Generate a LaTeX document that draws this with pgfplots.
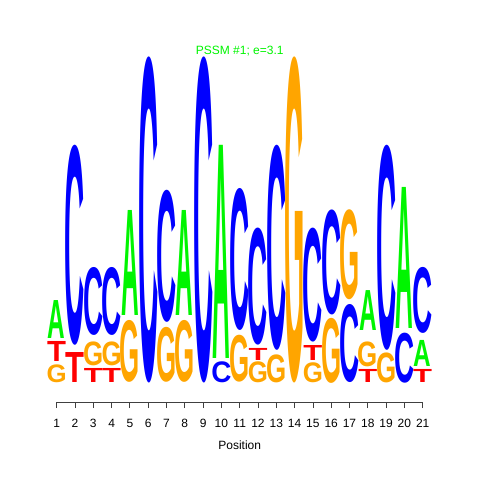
\documentclass[border=0pt]{standalone}
\usepackage{pgfplots}
\pgfplotsset{compat=1.18}
\usepackage{fontspec}
\setmainfont{Liberation Sans}
\definecolor{lA}{RGB}{0,245,0}
\definecolor{lC}{RGB}{0,0,255}
\definecolor{lG}{RGB}{255,165,0}
\definecolor{lT}{RGB}{255,0,0}
\newlength\bitunit
\setlength\bitunit{122.25pt}
\begin{document}
\begin{tikzpicture}
\begin{axis}[
  x=13.725pt, y=122.25pt,
  xmin=1, xmax=21, ymin=-0.1166, ymax=2,
  clip=false,
  axis x line*=bottom, axis y line=none,
  xtick={1,...,21},
  tick align=outside, major tick length=4.5pt,
  x axis line style={black!75, line width=0.6pt},
  xtick style={black!75, line width=0.6pt},
  /pgf/number format/assume math mode=true,
  xticklabel style={font=\fontsize{9}{10}\selectfont, anchor=base, yshift=-14.5pt},
  xlabel={Position},
  xlabel style={font=\fontsize{9}{10}\selectfont, at={(axis description cs:0.5,-0.1372)}, anchor=base},
  title={PSSM \#1; e=3.1},
  title style={font=\fontsize{9}{10}\selectfont, text=lA, at={(axis description cs:0.5,0.984)}, anchor=base},
  every node near coord/.append style={anchor=south, inner sep=0pt, outer sep=0pt},
]
% A
\addplot[draw=none, mark=none, nodes near coords={\resizebox*{13.2pt}{\hh\bitunit}{\bfseries A}},
  visualization depends on={value \thisrow{h}\as\hh}, every node near coord/.append style={text=lA}]
  table[x=x,y=y]{
x y h
1 0.276 0.233
5 0.417 0.644
8 0.417 0.644
10 0.153 1.307
18 0.325 0.245
20 0.337 0.865
21 0.104 0.160
};
% C
\addplot[draw=none, mark=none, nodes near coords={\resizebox*{15.1pt}{\hh\bitunit}{\bfseries C}},
  visualization depends on={value \thisrow{h}\as\hh}, every node near coord/.append style={text=lC}]
  table[x=x,y=y]{
x y h
2 0.233 1.227
3 0.294 0.417
4 0.294 0.417
6 0 2.0
7 0.374 0.810
9 0 2.0
10 0 0.129
11 0.325 0.871
12 0.233 0.718
13 0.202 1.258
15 0.252 0.699
16 0.417 0.644
17 0 0.479
19 0.202 1.258
20 0 0.307
21 0.307 0.405
};
% G
\addplot[draw=none, mark=none, nodes near coords={\resizebox*{15.1pt}{\hh\bitunit}{\bfseries G}},
  visualization depends on={value \thisrow{h}\as\hh}, every node near coord/.append style={text=lG}]
  table[x=x,y=y]{
x y h
1 0 0.110
3 0.104 0.147
4 0.104 0.147
5 0.006 0.380
7 0.006 0.337
8 0.006 0.380
11 0.006 0.288
12 0 0.129
13 0 0.172
14 0 2.0
15 0 0.123
16 0 0.399
17 0.509 0.552
18 0.098 0.153
19 0 0.184
};
% T
\addplot[draw=none, mark=none, nodes near coords={\resizebox*{14.2pt}{\hh\bitunit}{\bfseries T}},
  visualization depends on={value \thisrow{h}\as\hh}, every node near coord/.append style={text=lT}]
  table[x=x,y=y]{
x y h
1 0.129 0.123
2 0.006 0.184
3 0.006 0.086
4 0.006 0.086
12 0.141 0.074
15 0.141 0.092
18 0.006 0.080
21 0.006 0.080
};
\coordinate (bbll) at (axis cs:-2.098,-0.595);
\coordinate (bbur) at (axis cs:24.13,2.3497);
\end{axis}
\pgfresetboundingbox
\path (bbll) rectangle (bbur);
\end{tikzpicture}
\end{document}
